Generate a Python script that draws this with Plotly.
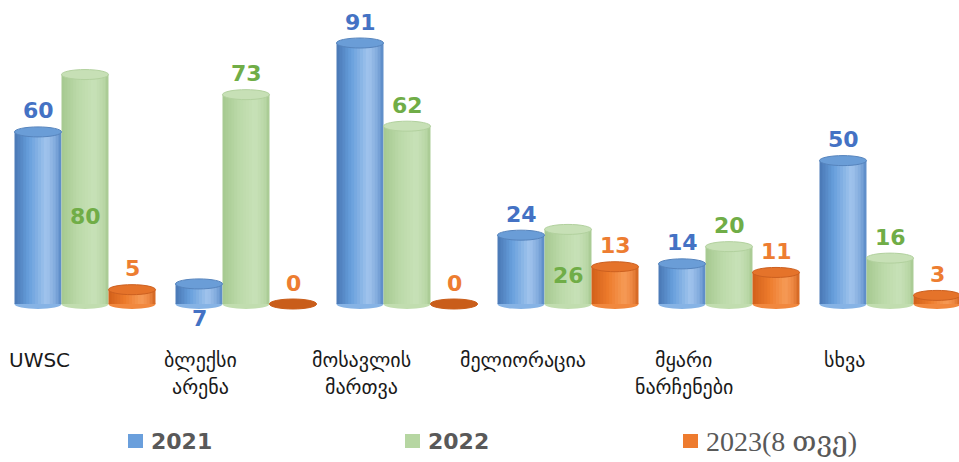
import plotly.graph_objects as go

# ---- data ----
categories = ["UWSC", "ბლექსი\nარენა", "მოსავლის\nმართვა", "მელიორაცია", "მყარი\nნარჩენები", "სხვა"]
series_names = ["2021", "2022", "2023(8 თვე)"]
v2021 = [60, 7, 91, 24, 14, 50]
v2022 = [80, 73, 62, 26, 20, 16]
v2023 = [5, 0, 0, 13, 11, 3]
label_place_2021 = ["above", "below", "above", "above", "above", "above"]
label_place_2022 = ["inside", "above", "above", "inside", "above", "above"]
label_place_2023 = ["above", "above", "above", "above", "above", "above"]

series_values = [v2021, v2022, v2023]
label_places = [label_place_2021, label_place_2022, label_place_2023]

# ---- styles ----
W, H = 959, 462
PX_PER_UNIT = 2.868
ZERO_PX = 304
UNIT_PX = 161.0
FIRST_CENTER_PX = 85.0
bar_w = 47.0 / UNIT_PX
ell_h = 5.0 / PX_PER_UNIT

label_colors = ["#4472C4", "#70AD47", "#ED7D31"]
grad_stops = [
    [(0.0, "#4977b4"), (0.3, "#679fdc"), (0.68, "#a2c5ee"), (0.88, "#7fa9dc"), (1.0, "#5686c4")],
    [(0.0, "#a6c990"), (0.35, "#bcdaa9"), (0.7, "#c8e2b8"), (0.9, "#bad7a7"), (1.0, "#a5c78f")],
    [(0.0, "#d2601a"), (0.35, "#ed7b2c"), (0.7, "#f79b57"), (0.88, "#ec8540"), (1.0, "#d0631f")],
]
cap_fill = ["#6a9dd7", "#c7e0b6", "#e5732a"]
cap_line = ["#5684bd", "#b2d19e", "#cc6020"]
zero_fill = ["#5684bd", "#a9ca93", "#c95d1a"]


def hex2rgb(h):
    h = h.lstrip("#")
    return tuple(int(h[i:i + 2], 16) for i in (0, 2, 4))


def interp(stops, t):
    for (t0, c0), (t1, c1) in zip(stops[:-1], stops[1:]):
        if t0 <= t <= t1:
            a = (t - t0) / (t1 - t0) if t1 > t0 else 0
            r0, g0, b0 = hex2rgb(c0)
            r1, g1, b1 = hex2rgb(c1)
            return "rgb(%d,%d,%d)" % (r0 + (r1 - r0) * a, g0 + (g1 - g0) * a, b0 + (b1 - b0) * a)
    return stops[-1][1]


xs = list(range(len(categories)))
fig = go.Figure()
shapes = []
annotations = []
N = 16
slice_w = bar_w / N

for s, vals in enumerate(series_values):
    base_off = (s - 1.5) * bar_w
    # bottom ellipses (below bars)
    for i, v in enumerate(vals):
        x0 = xs[i] + base_off
        shapes.append(dict(type="circle", xref="x", yref="y", layer="below",
                           x0=x0, x1=x0 + bar_w, y0=-ell_h, y1=ell_h,
                           fillcolor=interp(grad_stops[s], 0.5), line=dict(width=0)))
    # gradient slices (slightly overlapping to avoid seams)
    for k in range(N):
        t = (k + 0.5) / N
        w = slice_w * (1.8 if k < N - 1 else 1.0)
        fig.add_trace(go.Bar(
            x=xs, y=vals, width=w, offset=base_off + k * slice_w,
            marker=dict(color=interp(grad_stops[s], t), line=dict(width=0)),
            showlegend=False, hoverinfo="skip" if k else "y", name=series_names[s]))
    # top caps
    for i, v in enumerate(vals):
        x0 = xs[i] + base_off
        if v == 0:
            fill, lc = zero_fill[s], zero_fill[s]
        else:
            fill, lc = cap_fill[s], cap_line[s]
        shapes.append(dict(type="circle", xref="x", yref="y", layer="above",
                           x0=x0, x1=x0 + bar_w, y0=v - ell_h, y1=v + ell_h,
                           fillcolor=fill, line=dict(color=lc, width=1)))
    # data labels
    for i, v in enumerate(vals):
        xc = xs[i] + base_off + bar_w / 2
        place = label_places[s][i]
        if place == "above":
            y, ysh = v, 21
        elif place == "below":
            y, ysh = 0, -14
        else:
            y, ysh = v * 0.38, 0
        annotations.append(dict(x=xc, y=y, xref="x", yref="y", yshift=ysh,
                                text="<b>%d</b>" % v, showarrow=False,
                                font=dict(family="DejaVu Sans, sans-serif", size=22,
                                          color=label_colors[s])))

# category labels
for i, c in enumerate(categories):
    lines = c.split("\n")
    for j, line in enumerate(lines):
        annotations.append(dict(x=xs[i] - 0.28, y=1 - (360 + 27 * j) / H, xref="x", yref="paper",
                                text=line, showarrow=False, yanchor="middle",
                                font=dict(family="DejaVu Sans, sans-serif", size=20, color="#1a1a1a")))

# legend (custom)
legend_sq_px = [128, 405, 683]
legend_fonts = [
    dict(family="DejaVu Sans, sans-serif", size=22, color="#595959"),
    dict(family="DejaVu Sans, sans-serif", size=22, color="#595959"),
    dict(family="Liberation Serif, DejaVu Serif, serif", size=28, color="#595959"),
]
legend_text = ["<b>2021</b>", "<b>2022</b>", "2023(8 თვე)"]
legend_sq_col = ["#6a9fdc", "#b6d6a2", "#ee7b2e"]
for s in range(3):
    px = legend_sq_px[s]
    shapes.append(dict(type="rect", xref="paper", yref="paper",
                       x0=px / W, x1=(px + 15) / W, y0=1 - 448 / H, y1=1 - 434 / H,
                       fillcolor=legend_sq_col[s], line=dict(width=0)))
    annotations.append(dict(x=(px + 21) / W, y=1 - 441 / H, xref="paper", yref="paper",
                            xanchor="left", yanchor="middle", text=legend_text[s], showarrow=False,
                            font=legend_fonts[s]))

x_lo = -FIRST_CENTER_PX / UNIT_PX
x_hi = (W - FIRST_CENTER_PX) / UNIT_PX
y_hi = ZERO_PX / PX_PER_UNIT
y_lo = -(H - ZERO_PX) / PX_PER_UNIT

fig.update_layout(
    width=W, height=H, margin=dict(l=0, r=0, t=0, b=0),
    paper_bgcolor="white", plot_bgcolor="white",
    barmode="overlay", showlegend=False,
    xaxis=dict(range=[x_lo, x_hi], visible=False, fixedrange=True),
    yaxis=dict(range=[y_lo, y_hi], visible=False, fixedrange=True),
    shapes=shapes, annotations=annotations,
)
fig.write_html("out.html", config={"displayModeBar": False},
               post_script="document.body.style.margin='0';document.body.style.overflow='hidden';")
